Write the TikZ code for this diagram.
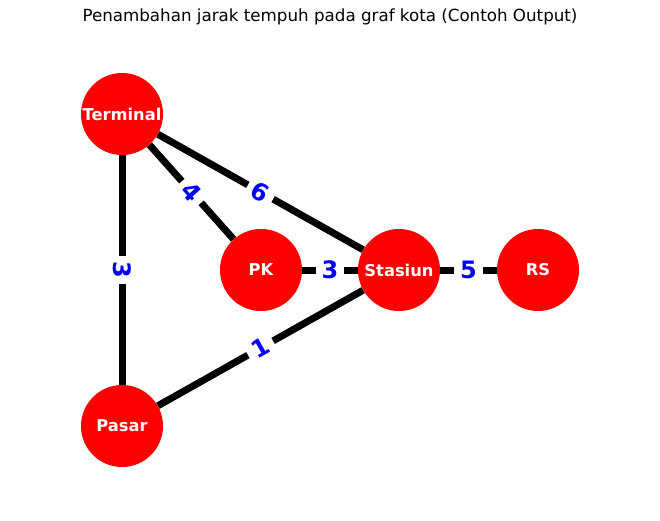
\documentclass[tikz,border=0pt]{standalone}
\usepackage{fontspec}
\setmainfont{DejaVu Sans}
\begin{document}
\begin{tikzpicture}[x=1pt,y=-1pt,
  city/.style={circle, fill=red, minimum size=82pt, inner sep=0pt, text=white, font=\bfseries\fontsize{16.3}{18}\selectfont},
  road/.style={line width=7pt, draw=black},
  wt/.style={fill=white, text=blue, inner sep=6pt, font=\bfseries\fontsize{24}{26}\selectfont}]
\useasboundingbox (0,0) rectangle (660,520);
\node (title) at (330,17) {\fontsize{16.7}{19}\selectfont Penambahan jarak tempuh pada graf kota (Contoh Output)};
\node[city] (T) at (122,114) {Terminal};
\node[city] (PK) at (261,270) {PK};
\node[city] (S) at (399,270) {Stasiun};
\node[city] (RS) at (538,270) {RS};
\node[city] (P) at (122,426) {Pasar};
\draw[road] (T) -- node[wt, rotate=-48.3] (l1) {4} (PK);
\draw[road] (T) -- node[wt, rotate=-29.4] (l2) {6} (S);
\draw[road] (T) -- node[wt, rotate=-90] (l3) {3} (P);
\draw[road] (P) -- node[wt, rotate=29.4] (l4) {1} (S);
\draw[road] (PK) -- node[wt] (l5) {3} (S);
\draw[road] (S) -- node[wt] (l6) {5} (RS);
\end{tikzpicture}
\end{document}
